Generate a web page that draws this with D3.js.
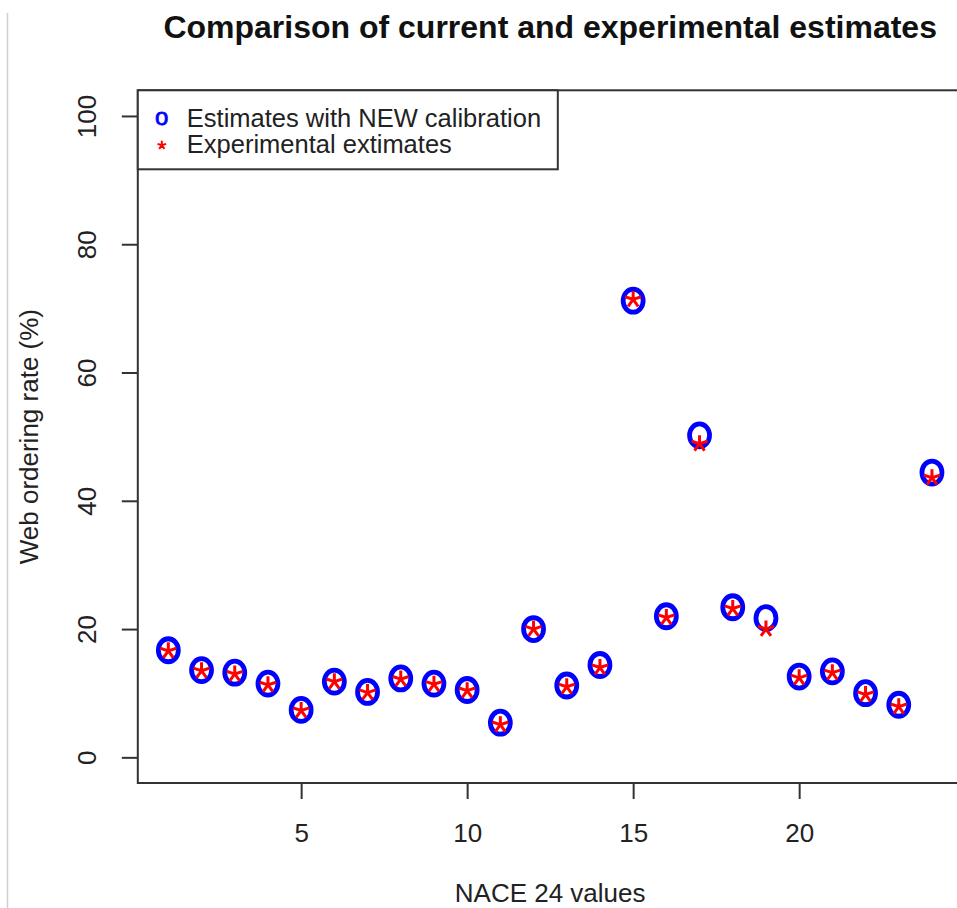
<!DOCTYPE html>
<html>
<head>
<meta charset="utf-8">
<script src="https://cdn.jsdelivr.net/npm/d3@7"></script>
<style>
    body { margin: 0; background: #fff; }
    svg { display: block; font-family: 'Liberation Sans', Arial, sans-serif; }
    .axis-text { font-size: 26px; fill: #222; }
    .legend-text { font-size: 25.5px; fill: #222; }
</style>
</head>
<body>
<div id="chart"></div>
<script>
// NACE sectors 1..24
const nace = d3.range(1, 25)
// Estimates with NEW calibration (blue "o")
const newCalibration = [16.7, 13.6, 13.2, 11.5, 7.4, 11.8, 10.2, 12.3, 11.5, 10.5, 5.4, 20.0,
    11.2, 14.4, 71.2, 22.0, 50.2, 23.4, 21.7, 12.6, 13.4, 10.0, 8.2, 44.4]
// Experimental estimates (red "*")
const experimental = [16.6, 13.5, 13.0, 11.3, 7.3, 11.8, 10.1, 12.2, 11.4, 10.4, 5.1, 20.0,
    11.0, 14.0, 71.4, 21.8, 48.9, 23.2, 20.0, 12.4, 13.2, 9.8, 7.9, 43.6]
const xTicks = [5, 10, 15, 20]
const yTicks = [0, 20, 40, 60, 80, 100]
const legendLabels = ['Estimates with NEW calibration', 'Experimental extimates']

const width = 957
const height = 908

const svg = d3.select('#chart')
    .append('svg')
    .attr('width', width)
    .attr('height', height)

// Thin grey border line on the left of the screenshot
svg.append('line')
    .attr('x1', 7.5).attr('x2', 7.5)
    .attr('y1', 13).attr('y2', height)
    .attr('stroke', '#cfcfcf')
    .attr('stroke-width', 1.5)

// R style 4% padding around the data range
const x = d3.scaleLinear()
    .domain([1 - 0.92, 24 + 0.92])
    .range([137.8, 962.5])

const y = d3.scaleLinear()
    .domain([-4, 104])
    .range([783, 90.3])

const [plotLeft, plotRight] = x.range()
const [plotBottom, plotTop] = y.range()

// Plot box
svg.append('rect')
    .attr('x', plotLeft)
    .attr('y', plotTop)
    .attr('width', plotRight - plotLeft)
    .attr('height', plotBottom - plotTop)
    .attr('fill', 'none')
    .attr('stroke', '#333')
    .attr('stroke-width', 2)

// Bottom axis
const xAxis = svg.append('g')
    .attr('transform', `translate(0,${plotBottom})`)
    .call(d3.axisBottom(x).tickValues(xTicks).tickSize(16).tickFormat(d3.format('d')))
xAxis.select('.domain').remove()
xAxis.selectAll('line').attr('stroke', '#333').attr('stroke-width', 2)
xAxis.selectAll('text')
    .attr('class', 'axis-text')
    .attr('y', 59)
    .attr('dy', null)

// Left axis, labels rotated like R's las = 0
const yAxis = svg.append('g')
    .attr('transform', `translate(${plotLeft},0)`)
    .call(d3.axisLeft(y).tickValues(yTicks).tickSize(16))
yAxis.select('.domain').remove()
yAxis.selectAll('line').attr('stroke', '#333').attr('stroke-width', 2)
yAxis.selectAll('text')
    .attr('class', 'axis-text')
    .attr('transform', 'rotate(-90)')
    .attr('x', 0)
    .attr('y', -42)
    .attr('dy', null)
    .attr('text-anchor', 'middle')

// Titles
svg.append('text')
    .attr('x', (plotLeft + plotRight) / 2)
    .attr('y', 38)
    .attr('text-anchor', 'middle')
    .style('font-size', '32px')
    .style('font-weight', 'bold')
    .style('fill', '#111')
    .text('Comparison of current and experimental estimates')

svg.append('text')
    .attr('class', 'axis-text')
    .attr('x', (plotLeft + plotRight) / 2)
    .attr('y', 902)
    .attr('text-anchor', 'middle')
    .text('NACE 24 values')

svg.append('text')
    .attr('class', 'axis-text')
    .attr('transform', `translate(38,${(plotTop + plotBottom) / 2}) rotate(-90)`)
    .attr('text-anchor', 'middle')
    .text('Web ordering rate (%)')

// Five armed asterisk like the "*" glyph
const starPath = r => d3.range(5).map(i => {
    const a = (-90 + i * 72) * Math.PI / 180
    return `M0,0L${r * Math.cos(a)},${r * Math.sin(a)}`
}).join('')

const plotArea = svg.append('g')

plotArea.selectAll('ellipse')
    .data(nace)
    .enter()
    .append('ellipse')
    .attr('cx', d => x(d))
    .attr('cy', (d, i) => y(newCalibration[i]))
    .attr('rx', 10)
    .attr('ry', 11.5)
    .attr('fill', 'none')
    .attr('stroke', '#0000ff')
    .attr('stroke-width', 4.8)

plotArea.selectAll('path.star')
    .data(nace)
    .enter()
    .append('path')
    .attr('class', 'star')
    .attr('transform', (d, i) => `translate(${x(d)},${y(experimental[i])})`)
    .attr('d', starPath(8.5))
    .attr('stroke', '#ff0000')
    .attr('stroke-width', 3)

// Legend in the top left corner
const legend = svg.append('g')
    .attr('transform', `translate(${plotLeft},${plotTop})`)

legend.append('rect')
    .attr('width', 420)
    .attr('height', 79)
    .attr('fill', '#fff')
    .attr('stroke', '#333')
    .attr('stroke-width', 2)

legend.append('text')
    .attr('x', 24)
    .attr('y', 35)
    .attr('text-anchor', 'middle')
    .style('font-size', '24px')
    .style('fill', '#0000ff')
    .style('stroke', '#0000ff')
    .style('stroke-width', 0.8)
    .text('o')

legend.append('path')
    .attr('transform', 'translate(24,55)')
    .attr('d', starPath(4.5))
    .attr('stroke', '#ff0000')
    .attr('stroke-width', 2)

legend.selectAll('text.label')
    .data(legendLabels)
    .enter()
    .append('text')
    .attr('class', 'label legend-text')
    .attr('x', 49)
    .attr('y', (d, i) => 37 + i * 26)
    .text(d => d)
</script>
</body>
</html>
